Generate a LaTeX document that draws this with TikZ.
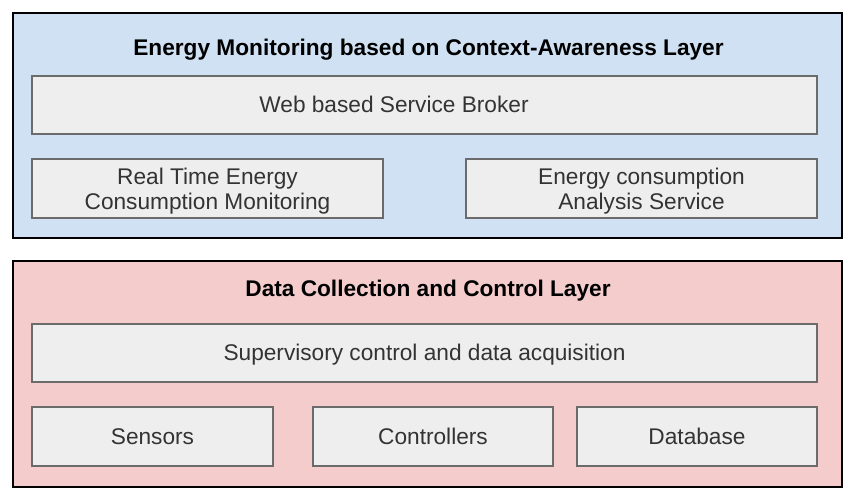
\documentclass[tikz,border=0pt]{standalone}
\usepackage{fontspec}
\setmainfont{Liberation Sans}
\definecolor{layerblue}{HTML}{CFE1F2}
\definecolor{layerred}{HTML}{F4CCCC}
\definecolor{boxfill}{HTML}{EEEEEE}
\definecolor{boxline}{HTML}{6B6B6B}
\definecolor{txt}{HTML}{333333}
\begin{document}
\begin{tikzpicture}[x=0.75pt,y=-0.75pt,
  layer/.style={draw=black,line width=1.5pt},
  inbox/.style={draw=boxline,fill=boxfill,line width=1.2pt},
  lbl/.style={text=txt,font=\fontsize{17}{19}\selectfont,align=center},
  one/.style={text height=12.5pt,text depth=3.5pt},
  ttl/.style={text=black,font=\fontsize{17}{19}\selectfont\bfseries,text height=12.5pt,text depth=3.5pt}]
\useasboundingbox (0,0) rectangle (860,500);
% upper layer
\path[layer,fill=layerblue] (13,13) rectangle (842,238);
\node[ttl] (t1) at (428.5,49) {Energy Monitoring based on Context-Awareness Layer};
\draw[inbox] (32,76) rectangle (817,134);
\node[lbl,one] (web) at (394,106) {Web based Service Broker};
\draw[inbox] (32,159) rectangle (383,218);
\node[lbl] (rt) at (207.5,191) {Real Time Energy\\Consumption Monitoring};
\draw[inbox] (466,159) rectangle (817,218);
\node[lbl] (ec) at (641.5,191) {Energy consumption\\Analysis Service};
% lower layer
\path[layer,fill=layerred] (13,261) rectangle (842,487);
\node[ttl] (t2) at (428,290) {Data Collection and Control Layer};
\draw[inbox] (32,324) rectangle (817,382);
\node[lbl,one] (scada) at (424.5,354) {Supervisory control and data acquisition};
\draw[inbox] (32,407) rectangle (273,466);
\node[lbl,one] (sens) at (152.5,438.5) {Sensors};
\draw[inbox] (313,407) rectangle (553,466);
\node[lbl,one] (ctrl) at (433,438.5) {Controllers};
\draw[inbox] (577,407) rectangle (817,466);
\node[lbl,one] (db) at (697,438.5) {Database};
\end{tikzpicture}
\end{document}
